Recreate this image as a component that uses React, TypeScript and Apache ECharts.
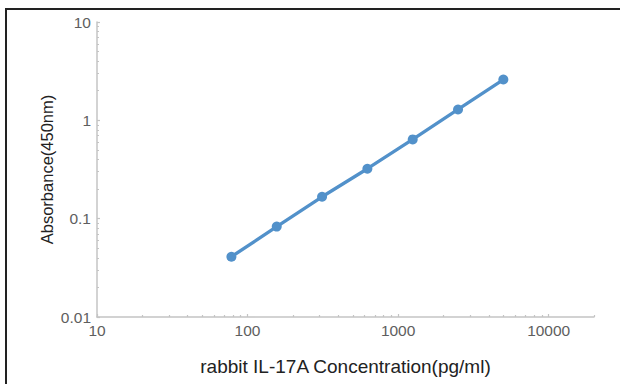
import React, { useEffect, useRef } from "react";
import * as echarts from "echarts";

const concentrations = [78.125, 156.25, 312.5, 625, 1250, 2500, 5000];
const absorbance = [0.041, 0.083, 0.167, 0.322, 0.64, 1.29, 2.6];
const xMajorTicks = [10, 100, 1000, 10000];
const xMinorTicks = [20, 30, 40, 50, 60, 70, 80, 90, 200, 300, 400, 500, 600, 700, 800, 900, 2000, 3000, 4000, 5000, 6000, 7000, 8000, 9000, 20000];
const yMajorTicks = [0.01, 0.1, 1, 10];
const yMinorTicks = [0.02, 0.03, 0.04, 0.05, 0.06, 0.07, 0.08, 0.09, 0.2, 0.3, 0.4, 0.5, 0.6, 0.7, 0.8, 0.9, 2, 3, 4, 5, 6, 7, 8, 9];
const xLabel = "rabbit IL-17A Concentration(pg/ml)";
const yLabel = "Absorbance(450nm)";

const FONT = "Liberation Sans, Arial, sans-serif";
const AXIS_COLOR = "#c4c4c4";
const TICK_LABEL_COLOR = "#5e5e5e";

function fmt(v: number) {
  return String(parseFloat(v.toPrecision(6)));
}

export default function App() {
  const ref = useRef<HTMLDivElement>(null);
  useEffect(() => {
    document.body.style.margin = "0";
    const chart = echarts.init(ref.current!, null, { renderer: "svg" });
    const axisLine = { show: true, lineStyle: { color: AXIS_COLOR, width: 1.5 } };
    chart.setOption({
      animation: false,
      backgroundColor: "#ffffff",
      grid: { left: 97, right: 26, top: 22, bottom: 67, containLabel: false },
      graphic: [
        { type: "line", shape: { x1: 5, y1: 9, x2: 620, y2: 9 }, style: { stroke: "#222", lineWidth: 2 } },
        { type: "line", shape: { x1: 6, y1: 8, x2: 6, y2: 384 }, style: { stroke: "#222", lineWidth: 2 } },
      ],
      xAxis: [
        {
          type: "log",
          logBase: 10,
          min: 10,
          max: 20000,
          position: "bottom",
          axisLine,
          axisTick: { show: true, inside: true, length: 3, customValues: xMajorTicks, lineStyle: { color: AXIS_COLOR, width: 1.2 } },
          axisLabel: {
            customValues: xMajorTicks,
            formatter: (v: number) => fmt(v),
            color: TICK_LABEL_COLOR,
            fontFamily: FONT,
            fontSize: 15.5,
            margin: 5,
          },
          splitLine: { show: false },
          minorTick: { show: false },
          name: xLabel,
          nameLocation: "middle",
          nameGap: 40,
          nameMoveOverlap: false,
          nameTextStyle: { color: "#222", fontFamily: FONT, fontSize: 19 },
        },
        {
          type: "log",
          logBase: 10,
          min: 10,
          max: 20000,
          position: "bottom",
          axisLine: { show: false },
          axisTick: { show: true, inside: true, length: 2, customValues: xMinorTicks, lineStyle: { color: AXIS_COLOR, width: 1.2 } },
          axisLabel: { show: false },
          splitLine: { show: false },
        },
      ],
      yAxis: [
        {
          type: "log",
          logBase: 10,
          min: 0.01,
          max: 10,
          position: "left",
          axisLine,
          axisTick: { show: true, inside: true, length: 3, customValues: yMajorTicks, lineStyle: { color: AXIS_COLOR, width: 1.2 } },
          axisLabel: {
            customValues: yMajorTicks,
            formatter: (v: number) => fmt(v),
            color: TICK_LABEL_COLOR,
            fontFamily: FONT,
            fontSize: 15.5,
            margin: 6,
          },
          splitLine: { show: false },
          name: yLabel,
          nameLocation: "middle",
          nameGap: 42,
          nameMoveOverlap: false,
          nameTextStyle: { color: "#222", fontFamily: FONT, fontSize: 16.5 },
        },
        {
          type: "log",
          logBase: 10,
          min: 0.01,
          max: 10,
          position: "left",
          axisLine: { show: false },
          axisTick: { show: true, inside: true, length: 2, customValues: yMinorTicks, lineStyle: { color: AXIS_COLOR, width: 1.2 } },
          axisLabel: { show: false },
          splitLine: { show: false },
        },
      ],
      series: [
        {
          type: "line",
          xAxisIndex: 0,
          yAxisIndex: 0,
          data: concentrations.map((c, i) => [c, absorbance[i]]),
          symbol: "circle",
          symbolSize: 10,
          lineStyle: { color: "#5291ca", width: 3.3 },
          itemStyle: { color: "#5291ca" },
          z: 3,
        },
      ],
    });
    return () => chart.dispose();
  }, []);
  return <div ref={ref} style={{ width: 620, height: 384 }} />;
}
